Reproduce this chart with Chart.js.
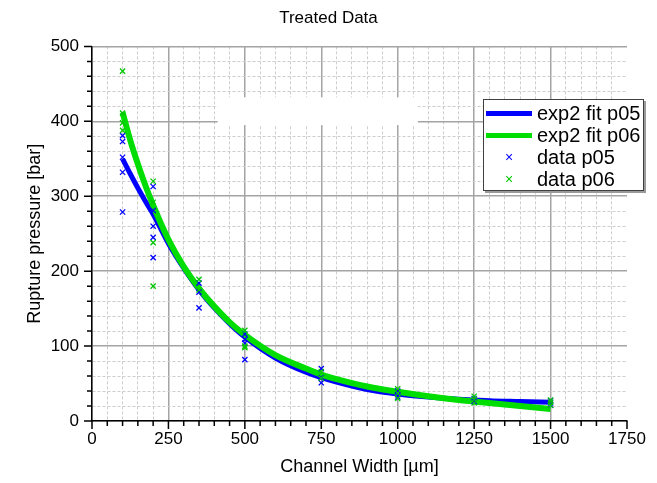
<!DOCTYPE html>
<html>
<head>
<meta charset="utf-8">
<script src="https://cdn.jsdelivr.net/npm/chart.js@4/dist/chart.umd.min.js"></script>
<style>
  html, body { margin: 0; padding: 0; background: #fff; }
  #wrap { position: relative; width: 657px; height: 483px; }
  #legend {
    position: absolute; left: 483px; top: 99px; width: 159px; height: 88px;
    border: 1px solid #404040; background: #fff; box-shadow: 2px 2px 0 #9a9a9a;
    font: 20px "Liberation Sans", Arial, sans-serif; color: #000;
    padding-top: 2px; box-sizing: content-box;
  }
  .row { position: relative; height: 22px; line-height: 22px; padding-left: 53px; white-space: nowrap; }
  .row .line { position: absolute; left: 2px; top: 9px; width: 46px; height: 5px; }
  .row .mark { position: absolute; left: 19px; top: 0; width: 12px; text-align: center; font-size: 14px; }
</style>
</head>
<body>
<div id="wrap">
  <canvas id="c" width="657" height="483"></canvas>
  <div id="legend"></div>
</div>
<script>
// 値は元画像から目視で読み取ったもの
const X_LABELS = [0, 250, 500, 750, 1000, 1250, 1500, 1750];
const Y_LABELS = [0, 100, 200, 300, 400, 500];

// exp2 フィット曲線（読み取り点）
const FIT_X   = [100, 125, 150, 175, 200, 250, 300, 350, 400, 450, 500, 600, 700, 750, 800, 900, 1000, 1100, 1200, 1250, 1300, 1400, 1500];
const FIT_P05 = [350, 330, 311, 293, 276, 237, 204, 175, 151, 130, 112, 84, 65, 58, 52, 42, 36, 32, 29, 28, 27, 26, 25];
const FIT_P06 = [412, 375, 343, 314, 288, 242, 206, 177, 153, 132, 115, 88, 70, 62, 56, 46, 39, 33, 28, 26, 24, 20, 16];

// 測定データ
const P05_X = [100, 100, 100, 100, 100, 200, 200, 200, 200, 200, 350, 350, 350, 500, 500, 500, 500, 750, 750, 750, 1000, 1000, 1000, 1250, 1250, 1500, 1500, 1500];
const P05_Y = [381, 373, 352, 332, 279, 313, 281, 260, 245, 218, 184, 172, 151, 116, 109, 104, 82, 70, 58, 51, 40, 35, 32, 30, 26, 27, 24, 21];
const P06_X = [100, 100, 100, 100, 200, 200, 200, 200, 350, 350, 500, 500, 500, 750, 750, 1000, 1000, 1000, 1250, 1250, 1250, 1500, 1500, 1500];
const P06_Y = [467, 411, 398, 388, 320, 292, 238, 180, 189, 175, 121, 100, 98, 66, 57, 43, 37, 30, 33, 29, 24, 28, 25, 21];

const BLUE = "#0000ff";
const GREEN = "#00dd00";
const GREEN_PT = "#00c800";
const FONT = "'Liberation Sans', Arial, sans-serif";

const pts = (xs, ys) => xs.map((x, i) => ({ x, y: ys[i] }));

// 軸の外側に主目盛・副目盛を描く
const tickMarks = {
  id: "tickMarks",
  afterDraw(chart) {
    const { ctx, chartArea: a } = chart;
    const { x, y } = chart.scales;
    ctx.save();
    ctx.strokeStyle = "#000";
    ctx.lineWidth = 1.5;
    ctx.beginPath();
    x.ticks.forEach((t) => {
      const px = x.getPixelForValue(t.value);
      const len = t.value % 250 === 0 ? 8 : 5;
      ctx.moveTo(px, a.bottom);
      ctx.lineTo(px, a.bottom + len);
    });
    y.ticks.forEach((t) => {
      const py = y.getPixelForValue(t.value);
      const len = t.value % 100 === 0 ? 8 : 5;
      ctx.moveTo(a.left, py);
      ctx.lineTo(a.left - len, py);
    });
    ctx.stroke();
    ctx.restore();
  },
};

// グラフ中央上の白い空欄（元図のテキストボックス跡）
const blankBox = {
  id: "blankBox",
  beforeDatasetsDraw(chart) {
    const { ctx } = chart;
    const { x, y } = chart.scales;
    const l = x.getPixelForValue(411), r = x.getPixelForValue(1066);
    const t = y.getPixelForValue(432), b = y.getPixelForValue(395);
    ctx.save();
    ctx.fillStyle = "#fff";
    ctx.fillRect(l, t, r - l, b - t);
    ctx.restore();
  },
};

const isMajor = (c, step) => c.tick && c.tick.value % step === 0;

const datasets = [
  { label: "exp2 fit p05", data: pts(FIT_X, FIT_P05), showLine: true, borderColor: BLUE, backgroundColor: BLUE,
    borderWidth: 5, pointRadius: 0, cubicInterpolationMode: "monotone", order: 4, kind: "line" },
  { label: "exp2 fit p06", data: pts(FIT_X, FIT_P06), showLine: true, borderColor: GREEN, backgroundColor: GREEN,
    borderWidth: 6, pointRadius: 0, cubicInterpolationMode: "monotone", order: 3, kind: "line" },
  { label: "data p05", data: pts(P05_X, P05_Y), showLine: false, borderColor: BLUE, backgroundColor: BLUE,
    pointStyle: "crossRot", pointRadius: 3.7, borderWidth: 1.3, order: 2, kind: "mark" },
  { label: "data p06", data: pts(P06_X, P06_Y), showLine: false, borderColor: GREEN_PT, backgroundColor: GREEN_PT,
    pointStyle: "crossRot", pointRadius: 3.7, borderWidth: 1.3, order: 1, kind: "mark" },
];

new Chart(document.getElementById("c"), {
  type: "scatter",
  data: { datasets },
  plugins: [blankBox, tickMarks],
  options: {
    responsive: false,
    animation: false,
    layout: { padding: 0 },
    plugins: {
      legend: { display: false },
      tooltip: { enabled: false },
      title: {
        display: true, text: "Treated Data", color: "#000",
        font: { family: FONT, size: 17, weight: "normal" },
        padding: { top: 8, bottom: 18 },
      },
    },
    scales: {
      x: {
        type: "linear", min: 0, max: 1750,
        // 右側の余白はタイトルの中心をずらさないよう軸側で確保する
        afterFit: (s) => { s.height = 62; s.paddingRight = 30; },
        ticks: {
          stepSize: 50, autoSkip: false, maxRotation: 0, padding: 8, color: "#000",
          font: { family: FONT, size: 17 },
          callback: (v) => X_LABELS.includes(v) ? String(v) : "",
        },
        grid: {
          drawTicks: false,
          color: (c) => c.tick && c.tick.value === 1750 ? "rgba(0,0,0,0)" : isMajor(c, 250) ? "#a4a4a4" : "#cdcdcd",
          lineWidth: (c) => isMajor(c, 250) ? 1.5 : 1,
        },
        border: { display: true, color: "#000", width: 1.5, dash: (c) => c.tick && c.tick.value % 250 !== 0 ? [3, 2] : [] },
        title: {
          display: true, text: "Channel Width [\u00b5m]", color: "#000",
          font: { family: FONT, size: 18 }, padding: { top: 0, bottom: 5 },
        },
      },
      y: {
        type: "linear", min: 0, max: 500,
        afterFit: (s) => { s.width = 92; },
        ticks: {
          stepSize: 20, autoSkip: false, padding: 13, color: "#000",
          font: { family: FONT, size: 17 },
          callback: (v) => Y_LABELS.includes(v) ? String(v) : "",
        },
        grid: {
          drawTicks: false,
          color: (c) => isMajor(c, 100) ? "#a4a4a4" : "#cdcdcd",
          lineWidth: (c) => isMajor(c, 100) ? 1.5 : 1,
        },
        border: { display: true, color: "#000", width: 1.5, dash: (c) => c.tick && c.tick.value % 100 !== 0 ? [3, 2] : [] },
        title: {
          display: true, text: "Rupture pressure [bar]", color: "#000",
          font: { family: FONT, size: 18 }, padding: { top: 24, bottom: 0 },
        },
      },
    },
  },
});

// 凡例（元図と同じく枠付きでプロット内に重ねる）
document.getElementById("legend").innerHTML = datasets.map((d) => d.kind === "line"
  ? `<div class="row"><span class="line" style="background:${d.borderColor}"></span>${d.label}</div>`
  : `<div class="row"><span class="mark" style="color:${d.borderColor}">\u00d7</span>${d.label}</div>`
).join("");
</script>
</body>
</html>
